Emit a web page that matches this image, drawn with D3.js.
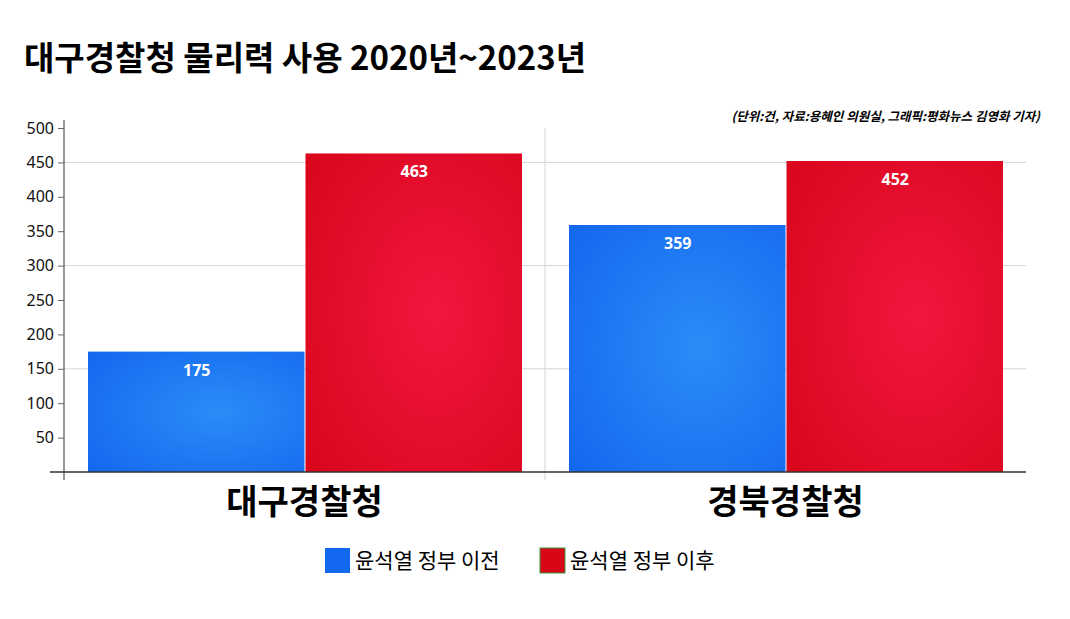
<!DOCTYPE html>
<html><head><meta charset="utf-8">
<script src="https://cdn.jsdelivr.net/npm/d3@7"></script>
<style>body{margin:0;background:#fff;font-family:"Noto Sans CJK KR","Noto Sans",sans-serif;}</style>
</head><body>
<script>
// chart data
var categories = ["대구경찰청", "경북경찰청"];
var seriesNames = ["윤석열 정부 이전", "윤석열 정부 이후"];
var beforeValues = [175, 359];
var afterValues = [463, 452];
var yTicks = [50, 100, 150, 200, 250, 300, 350, 400, 450, 500];
var gridTicks = [150, 300, 450];

var svgWidth = 1070, svgHeight = 619;
var margin = {top: 128, right: 44, bottom: 147, left: 64};
var width = svgWidth - margin.left - margin.right;
var height = svgHeight - margin.top - margin.bottom;

var svg = d3.select("body").append("svg")
  .attr("width", svgWidth).attr("height", svgHeight);

var defs = svg.append("defs");
function grad(id, inner, outer) {
  var g = defs.append("radialGradient").attr("id", id).attr("cx", "60%").attr("cy", "50%").attr("r", "75%");
  g.append("stop").attr("offset", "0%").attr("stop-color", inner);
  g.append("stop").attr("offset", "100%").attr("stop-color", outer);
}
grad("gBlue", "#2a8cf8", "#1468ee");
grad("gRed", "#f2163e", "#d9061c");
var fills = ["url(#gBlue)", "url(#gRed)"];
var legendColors = ["#1268ee", "#d90618"];

svg.append("text").attr("x", 24).attr("y", 70)
  .attr("font-size", 33).attr("font-weight", 700).attr("fill", "#000")
  .text("대구경찰청 물리력 사용 2020년~2023년");

svg.append("text").attr("x", 1040).attr("y", 121).attr("text-anchor", "end")
  .attr("font-size", 12.5).attr("font-weight", 700).attr("font-style", "italic")
  .text("(단위:건, 자료:용혜인 의원실, 그래픽:평화뉴스 김영화 기자)");

var chart = svg.append("g").attr("transform", `translate(${margin.left},${margin.top})`);

var x0 = d3.scaleBand().domain(categories).range([0, width]).paddingInner(0).paddingOuter(0);
var x1 = d3.scaleBand().domain([0, 1]).range([24, x0.bandwidth() - 22]).padding(0);
var y = d3.scaleLinear().domain([0, 500]).range([height, 0]);

// grid lines
chart.selectAll(".grid").data(gridTicks).enter().append("line")
  .attr("x1", 0).attr("x2", width)
  .attr("y1", d => y(d)).attr("y2", d => y(d))
  .attr("stroke", "#d4d4d4").attr("stroke-width", 1);
chart.append("line").attr("x1", x0.bandwidth()).attr("x2", x0.bandwidth())
  .attr("y1", 0).attr("y2", height + 8).attr("stroke", "#d4d4d4");

var groups = chart.selectAll(".grp").data(categories).enter().append("g")
  .attr("transform", d => `translate(${x0(d)},0)`);

groups.each(function(c, i) {
  var vals = [beforeValues[i], afterValues[i]];
  var g = d3.select(this);
  vals.forEach(function(v, s) {
    g.append("rect").attr("x", x1(s)).attr("width", x1.bandwidth() - 1)
      .attr("y", y(v)).attr("height", height - y(v)).attr("fill", fills[s]);
    g.append("text").attr("x", x1(s) + x1.bandwidth() / 2).attr("y", y(v) + 24)
      .attr("text-anchor", "middle").attr("fill", "#fff")
      .attr("font-size", 16).attr("font-weight", 700).attr("font-family", "Noto Sans")
      .text(v);
  });
});

// axes
var yAxis = chart.append("g").call(d3.axisLeft(y).tickValues(yTicks).tickSize(6).tickSizeOuter(0));
yAxis.select(".domain").attr("stroke", "#333").attr("d", `M0,${height + 8}V-8`);
yAxis.selectAll("line").attr("stroke", "#666");
yAxis.selectAll("text").attr("font-size", 16).attr("font-family", "Noto Sans").attr("fill", "#111").attr("x", -10);

chart.append("line").attr("x1", -14).attr("x2", width).attr("y1", height).attr("y2", height)
  .attr("stroke", "#333").attr("stroke-width", 1.5);

chart.selectAll(".cat").data(categories).enter().append("text")
  .attr("x", d => x0(d) + x0.bandwidth() / 2).attr("y", height + 42)
  .attr("text-anchor", "middle").attr("font-size", 34).attr("font-weight", 700)
  .text(d => d);

// legend
var legendX = [325, 540];
var legend = svg.selectAll(".leg").data(seriesNames).enter().append("g")
  .attr("transform", (d, i) => `translate(${legendX[i]},548)`);
legend.append("rect").attr("width", 25).attr("height", 25)
  .attr("fill", (d, i) => legendColors[i])
  .attr("stroke", (d, i) => i ? "#3a9a3a" : "none");
legend.append("text").attr("x", 30).attr("y", 20).attr("font-size", 21).text(d => d);
</script>
</body></html>
